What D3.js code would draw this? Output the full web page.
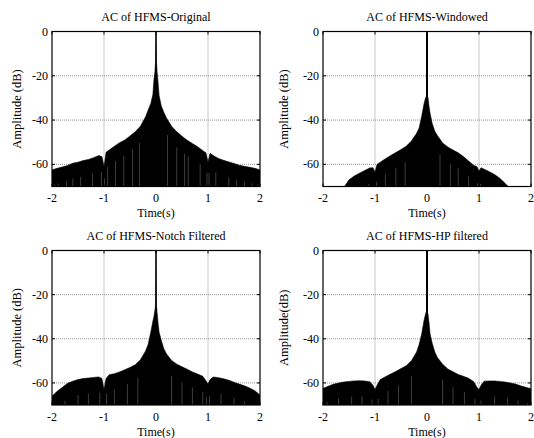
<!DOCTYPE html>
<html><head><meta charset="utf-8">
<script src="https://cdn.jsdelivr.net/npm/d3@7"></script>
<style>
body{margin:0;background:#fff}
</style>
</head><body>
<svg id="c" width="534" height="438" font-family="'Liberation Serif', 'DejaVu Serif', serif" font-size="12"></svg>
<script>
// lag axis (s), shared by all panels
const lags = [-2,-1.9,-1.8,-1.7,-1.6,-1.5,-1.4,-1.3,-1.2,-1.1,-1.04,-1.0,-0.96,-0.9,-0.8,-0.7,-0.6,-0.5,-0.4,-0.3,-0.2,-0.15,-0.1,-0.06,-0.04,-0.02,-0.01,0,0.01,0.02,0.04,0.06,0.1,0.15,0.2,0.3,0.4,0.5,0.6,0.7,0.8,0.9,0.96,1.0,1.04,1.1,1.2,1.3,1.4,1.5,1.6,1.7,1.8,1.9,2];

// envelope (dB) of each autocorrelation
const originalDB = [-62.5,-61.8,-61.2,-60.5,-59.5,-59,-58.3,-57.8,-57,-56,-56.5,-61,-54.5,-53.5,-51.8,-50.2,-49,-47.2,-45.3,-42.8,-38.5,-35.5,-32.5,-28.5,-22,-18,-14,0,-14,-18,-23,-29,-33.5,-36.5,-39,-42.8,-45.3,-47.3,-49.1,-50.6,-52,-53.8,-54.8,-59,-55,-56,-57.3,-58.2,-58.9,-59.6,-60.4,-60.9,-61.3,-61.8,-62.5];
const windowedDB = [-80,-80,-80,-80,-70.5,-67,-65.3,-64,-62.8,-61.6,-61.5,-63.5,-60,-59,-57.5,-56,-54.7,-53.3,-51.8,-49.5,-46,-43.5,-38,-33,-31,-29.5,-29.5,0,-29.5,-30,-34,-37,-41.5,-45,-47,-50.3,-52.2,-53.5,-54.8,-56.5,-58.5,-60.5,-61,-63,-61.5,-62.2,-63.3,-64.6,-66.3,-68.5,-71,-80,-80,-80,-80];
const notchDB = [-66,-63.8,-62,-60.2,-59.2,-58.5,-58,-57.8,-57.5,-57.3,-58,-63,-58,-56.3,-55.8,-55,-54,-53,-51.8,-49.5,-45.5,-42.5,-37,-32,-30,-27,-25,0,-25,-28,-33,-37,-40.6,-44.5,-46.8,-49.8,-51.5,-52.7,-53.8,-55,-56,-57,-59,-60.5,-58.5,-57.3,-57.6,-58.1,-58.8,-59.7,-60.5,-61.3,-62.3,-63.5,-65.5];
const hpDB = [-62.5,-61.5,-60.6,-60,-59.6,-59.3,-59.1,-59,-59.1,-59.5,-61,-63,-61,-58.5,-57.2,-56,-54.8,-53.5,-52.2,-50,-46,-42.5,-37.6,-32,-30,-28,-28,0,-28,-29,-33,-38,-42,-46,-48.5,-51.5,-53.7,-54.9,-56.2,-57,-57.9,-59.5,-62,-63,-61,-59.2,-59.1,-59.1,-59.3,-59.6,-60,-60.5,-61.3,-62,-62.6];

// lags of visible deep nulls (light streaks)
const originalNulls = [-1.95,-1.88,-1.72,-1.6,-1.45,-1.22,-1.05,-0.99,-0.93,-0.78,-0.62,-0.45,-0.32,0.22,0.4,0.55,0.62,0.85,0.98,1.02,1.15,1.4,1.55,1.7,1.85,1.97];
const windowedNulls = [-1.45,-1.3,-1.12,-1.02,-0.97,-0.8,-0.6,-0.42,0.25,0.45,0.6,0.8,0.97,1.03,1.2,1.35];
const notchNulls = [-1.9,-1.75,-1.5,-1.3,-1.08,-1.0,-0.95,-0.8,-0.55,-0.35,0.3,0.5,0.7,0.9,0.97,1.03,1.25,1.5,1.7,1.9];
const hpNulls = [-1.92,-1.7,-1.45,-1.25,-1.06,-1.0,-0.94,-0.75,-0.55,-0.3,0.3,0.5,0.72,0.92,0.98,1.04,1.3,1.55,1.75,1.93];

const titles = ["AC of HFMS-Original","AC of HFMS-Windowed","AC of HFMS-Notch Filtered","AC of HFMS-HP filtered"];
const yLabels = ["Amplitude (dB)","Amplitude (dB)","Amplitude (dB)","Amplitude(dB)"];
const xTicks = [-2,-1,0,1,2];
const yTicks = [0,-20,-40,-60];
const xLabel = "Time(s)";

const series = [originalDB, windowedDB, notchDB, hpDB];
const nulls = [originalNulls, windowedNulls, notchNulls, hpNulls];

// layout
const boxes = [
  {x0:52, x1:260, y0:31.5, y1:186.5, ylx:17, spikeW:1},
  {x0:323, x1:531, y0:31.5, y1:186.5, ylx:284, spikeW:2},
  {x0:52, x1:260, y0:250.5, y1:405, ylx:17, spikeW:1},
  {x0:323, x1:531, y0:250.5, y1:405, ylx:284, spikeW:2}
];

const svg = d3.select("#c");

boxes.forEach((b, i) => {
  const x = d3.scaleLinear().domain([-2,2]).range([b.x0,b.x1]);
  const y = d3.scaleLinear().domain([-70,0]).range([b.y1,b.y0]);
  const g = svg.append("g");
  const cid = "clip"+i;
  g.append("clipPath").attr("id",cid).append("rect")
    .attr("x",b.x0).attr("y",b.y0).attr("width",b.x1-b.x0).attr("height",b.y1-b.y0);

  // grid
  g.selectAll(".gx").data(xTicks.slice(1,-1)).enter().append("line")
    .attr("x1",d=>x(d)).attr("x2",d=>x(d)).attr("y1",b.y0).attr("y2",b.y1)
    .attr("stroke","#777").attr("stroke-width",0.8).attr("stroke-dasharray","1,1");
  g.selectAll(".gy").data(yTicks.slice(1)).enter().append("line")
    .attr("x1",b.x0).attr("x2",b.x1).attr("y1",d=>y(d)).attr("y2",d=>y(d))
    .attr("stroke","#777").attr("stroke-width",0.8).attr("stroke-dasharray","1,1");

  const data = lags.map((t,k)=>({t, v:series[i][k]}));
  const plot = g.append("g").attr("clip-path",`url(#${cid})`);
  const area = d3.area().x(d=>x(d.t)).y0(y(-80)).y1(d=>y(d.v));
  plot.append("path").datum(data).attr("d",area)
    .attr("fill","#000").attr("stroke","#000").attr("stroke-width",0.6);

  // nulls
  const env = t => {
    const k = d3.bisectLeft(lags, t);
    const k0 = Math.max(0,k-1), k1 = Math.min(lags.length-1,k);
    if (k0===k1) return series[i][k0];
    const f = (t-lags[k0])/(lags[k1]-lags[k0]);
    return series[i][k0]*(1-f)+series[i][k1]*f;
  };
  plot.selectAll(".nl").data(nulls[i]).enter().append("line")
    .attr("x1",d=>x(d)).attr("x2",d=>x(d))
    .attr("y1",d=>y(env(d)-7)).attr("y2",b.y1)
    .attr("stroke","#fff").attr("stroke-opacity",0.35).attr("stroke-width",0.7);

  // centre spike
  const peak = series[i][lags.indexOf(0)];
  plot.append("line").attr("x1",x(0)).attr("x2",x(0))
    .attr("y1",y(peak)).attr("y2",y(-40))
    .attr("stroke","#000").attr("stroke-width",b.spikeW);

  // box
  g.append("rect").attr("x",b.x0).attr("y",b.y0).attr("width",b.x1-b.x0).attr("height",b.y1-b.y0)
    .attr("fill","none").attr("stroke","#000").attr("stroke-width",1.2);

  // ticks inward
  xTicks.forEach(t=>{
    g.append("line").attr("x1",x(t)).attr("x2",x(t)).attr("y1",b.y1).attr("y2",b.y1-3).attr("stroke","#000");
    g.append("line").attr("x1",x(t)).attr("x2",x(t)).attr("y1",b.y0).attr("y2",b.y0+3).attr("stroke","#000");
  });
  yTicks.forEach(t=>{
    g.append("line").attr("x1",b.x0).attr("x2",b.x0+3).attr("y1",y(t)).attr("y2",y(t)).attr("stroke","#000");
    g.append("line").attr("x1",b.x1).attr("x2",b.x1-3).attr("y1",y(t)).attr("y2",y(t)).attr("stroke","#000");
  });

  // tick labels
  g.selectAll(".xl").data(xTicks).enter().append("text")
    .attr("x",d=>x(d)).attr("y",b.y1+15.5).attr("text-anchor","middle").text(d=>d);
  g.selectAll(".yl").data(yTicks).enter().append("text")
    .attr("x",b.x0-4).attr("y",d=>y(d)+4).attr("text-anchor","end").text(d=>d);

  // labels
  g.append("text").attr("x",(b.x0+b.x1)/2).attr("y",b.y0-11).attr("text-anchor","middle").text(titles[i]);
  g.append("text").attr("x",(b.x0+b.x1)/2).attr("y",b.y1+30.5).attr("text-anchor","middle").text(xLabel);
  g.append("text").attr("transform",`translate(${b.ylx+4},${(b.y0+b.y1)/2}) rotate(-90)`)
    .attr("text-anchor","middle").attr("font-size",12.5).text(yLabels[i]);
});
</script>
</body></html>
